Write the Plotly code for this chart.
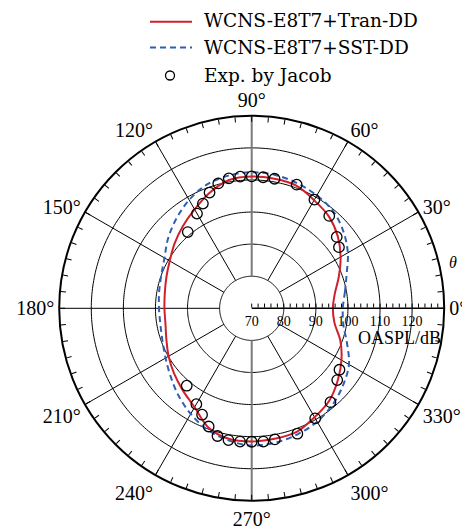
import numpy as np
import plotly.graph_objects as go

# ---------------------------------------------------------------
# Directivity of overall sound pressure level (OASPL)
# ---------------------------------------------------------------
theta_sim = [0, 10, 20, 30, 40, 50, 60, 70, 80, 90, 100, 110, 120, 130, 140, 150, 160, 170, 180,
             190, 200, 210, 220, 230, 240, 250, 260, 270, 280, 290, 300, 310, 320, 330, 340, 350, 360]

oaspl_tran_dd = [95.3, 96.3, 98.9, 102.0, 105.0, 107.4, 108.9, 110.7, 111.0, 111.1, 110.6, 108.3,
                 105.6, 103.4, 101.4, 99.5, 98.3, 97.5, 97.2, 97.3, 98.3, 99.9, 101.6, 103.4, 105.6,
                 109.5, 111.3, 111.5, 111.3, 111.0, 109.2, 107.6, 105.0, 102.3, 99.4, 96.2, 95.3]

oaspl_sst_dd = [98.4, 99.5, 101.5, 104.6, 107.3, 109.5, 110.6, 111.5, 112.2, 112.4, 112.0, 111.0,
                109.0, 106.5, 104.0, 101.4, 100.0, 99.3, 98.9, 98.9, 99.6, 101.0, 103.0, 105.5,
                108.0, 110.3, 111.8, 112.8, 112.5, 111.8, 110.8, 109.2, 107.2, 105.0, 101.6, 99.0, 98.4]

theta_exp = [35, 40, 50, 60, 70, 80, 85, 90, 95, 100, 105, 110, 115, 120, 130,
             230, 240, 245, 250, 255, 260, 265, 270, 275, 280, 290, 300, 310, 320, 325]
oaspl_exp = [103.2, 104.6, 107.6, 109.1, 111.0, 111.0, 111.0, 111.1, 111.2, 111.1, 110.3, 108.4,
             106.0, 104.1, 101.0,
             101.5, 104.5, 106.6, 109.2, 111.2, 111.7, 111.7, 111.6, 111.7, 111.5, 111.6, 109.6,
             108.2, 104.8, 103.4]

r_min, r_max = 70, 130
grid_rings = [80, 90, 100, 110, 120]
spoke_angles = [30, 60, 120, 150, 180, 210, 240, 300, 330]
vertical_spokes = [90, 270]

series_names = ["WCNS-E8T7+Tran-DD", "WCNS-E8T7+SST-DD", "Exp. by Jacob"]
red = "#d1202b"
blue = "#2f5fb5"
serif = "Liberation Serif"
legend_font = "DejaVu Serif"

# ---------------------------------------------------------------
W, H = 462, 531
cx, cy, R = 251.7, 308.3, 192.5


def fx(x):
    return x / W


def fy(y):
    return 1 - y / H


fig = go.Figure()

# concentric grid rings
ring_theta = np.linspace(0, 360, 361)
for rv in grid_rings:
    fig.add_trace(go.Scatterpolar(r=[rv] * len(ring_theta), theta=ring_theta, mode="lines",
                                  line=dict(color="black", width=1), hoverinfo="skip"))

# angular spokes starting at the innermost ring
sp_r, sp_t = [], []
for a in spoke_angles:
    sp_r += [grid_rings[0], r_max, None]
    sp_t += [a, a, None]
fig.add_trace(go.Scatterpolar(r=sp_r, theta=sp_t, mode="lines",
                              line=dict(color="black", width=1), hoverinfo="skip"))
vr, vt = [], []
for a in vertical_spokes:
    vr += [grid_rings[0], r_max, None]
    vt += [a, a, None]
fig.add_trace(go.Scatterpolar(r=vr, theta=vt, mode="lines",
                              line=dict(color="#7a7a7a", width=2), hoverinfo="skip"))

# simulation curves
fig.add_trace(go.Scatterpolar(r=oaspl_sst_dd, theta=theta_sim, mode="lines", name=series_names[1],
                              line=dict(color=blue, width=2, dash="6px,4px", shape="spline")))
fig.add_trace(go.Scatterpolar(r=oaspl_tran_dd, theta=theta_sim, mode="lines", name=series_names[0],
                              line=dict(color=red, width=2, shape="spline")))

# measurements
fig.add_trace(go.Scatterpolar(r=oaspl_exp, theta=theta_exp, mode="markers", name=series_names[2],
                              marker=dict(symbol="circle-open", size=10.5, color="black",
                                          line=dict(width=1.3, color="black"))))

# radial axis ticks every 2 dB, labelled every 10 dB
r_ticks = list(range(r_min, r_max, 2))
r_text = [str(v) if v % 10 == 0 else "" for v in r_ticks]
a_ticks = list(range(0, 360, 5))
a_text = [f"{v}°" if v % 30 == 0 else "" for v in a_ticks]

fig.update_layout(
    width=W, height=H,
    margin=dict(l=0, r=0, t=0, b=0),
    paper_bgcolor="white",
    showlegend=False,
    font=dict(family=serif, color="black"),
    polar=dict(
        domain=dict(x=[fx(cx - R), fx(cx + R)], y=[fy(cy + R), fy(cy - R)]),
        bgcolor="white",
        radialaxis=dict(range=[r_min, r_max], angle=0, side="clockwise",
                        tickvals=r_ticks, ticktext=r_text, ticks="inside", ticklen=4,
                        tickcolor="black", tickwidth=1, showgrid=False,
                        showline=True, linecolor="black", linewidth=1.5,
                        tickfont=dict(family=serif, size=14, color="black"),
                        tickangle=0),
        angularaxis=dict(rotation=0, direction="counterclockwise",
                         tickvals=a_ticks, ticktext=a_text, ticks="inside", ticklen=5,
                         tickcolor="black", tickwidth=1, showgrid=False,
                         showline=True, linecolor="black", linewidth=2,
                         tickfont=dict(family=serif, size=20, color="black")),
    ),
)

# radial axis title and angle symbol
fig.add_annotation(text="OASPL/dB", x=fx(399), y=fy(338), xref="paper", yref="paper",
                   showarrow=False, xanchor="center", yanchor="middle",
                   font=dict(family=serif, size=18, color="black"))
fig.add_annotation(text="<i>θ</i>", x=fx(447), y=fy(262), xref="paper", yref="paper",
                   showarrow=False, xanchor="left", yanchor="middle",
                   font=dict(family=serif, size=16, color="black"))

# legend block
leg_x0, leg_x1, leg_tx = 150, 192, 202
leg_rows = [21.0, 47.0, 75.0]
fig.add_shape(type="line", xref="paper", yref="paper", x0=fx(leg_x0), x1=fx(leg_x1),
              y0=fy(leg_rows[0] + 0.7), y1=fy(leg_rows[0] + 0.7), line=dict(color=red, width=2))
fig.add_shape(type="line", xref="paper", yref="paper", x0=fx(leg_x0), x1=fx(leg_x1),
              y0=fy(leg_rows[1] + 0.5), y1=fy(leg_rows[1] + 0.5),
              line=dict(color=blue, width=2, dash="6px,4px"))
fig.add_shape(type="circle", xref="paper", yref="paper", x0=fx(165.5), x1=fx(174.5),
              y0=fy(leg_rows[2] + 5), y1=fy(leg_rows[2] - 4), line=dict(color="black", width=1.3))
for name, yr in zip(series_names, leg_rows):
    fig.add_annotation(text=name, x=fx(leg_tx), y=fy(yr), xref="paper", yref="paper",
                       showarrow=False, xanchor="left", yanchor="middle",
                       font=dict(family=legend_font, size=18.5, color="black"))

fig.write_html("out.html")
